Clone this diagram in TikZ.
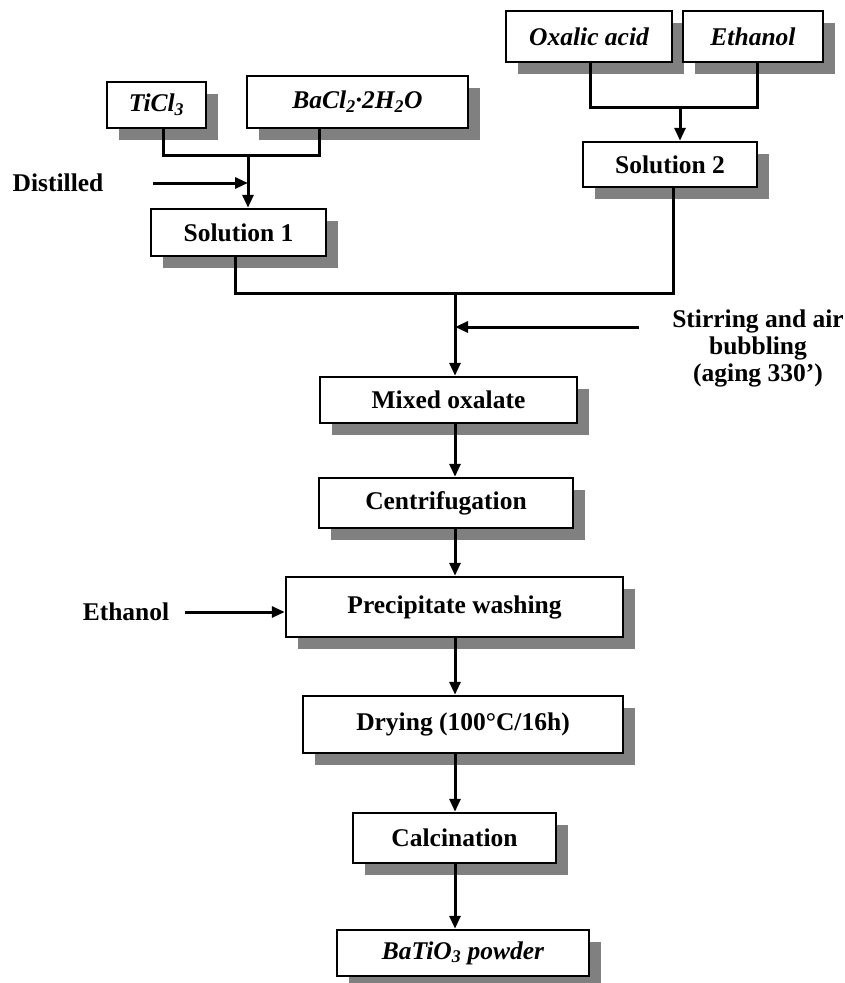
\documentclass[tikz,border=0pt]{standalone}
\usepackage{fontspec}
\setmainfont{Liberation Serif}
\usepackage{tikz}
\usetikzlibrary{positioning,calc,shadows,arrows.meta}
\tikzset{block/.style={draw,line width=2.5pt,fill=white,inner sep=0pt,
           font=\fontsize{25.5}{27}\selectfont\bfseries,
           drop shadow={shadow xshift=12pt,shadow yshift=-12pt,fill=black!50,opacity=1}},
         label/.style={inner sep=0pt,align=center,font=\fontsize{25.5}{27}\selectfont\bfseries},
         link/.style={line width=3pt}
}
\tikzstyle{arrow} = [link,-{Triangle[length=13pt,width=11pt]}]

\begin{document}
\begin{tikzpicture}[x=1pt,y=-1pt]
\useasboundingbox (0,0) rectangle (844,983);

\node[block,minimum width=99,minimum height=46] (ticl) at (156.5,105) {\itshape TiCl\textsubscript{3}};
\node[block,minimum width=221,minimum height=52] (bacl) at (357.5,102) {\itshape BaCl\textsubscript{2}·2H\textsubscript{2}O};
\node[block,minimum width=166,minimum height=51] (oxal) at (589,36.5) {\itshape Oxalic acid};
\node[block,minimum width=140,minimum height=51] (etoh) at (753,36.5) {\itshape Ethanol};
\node[block,minimum width=175,minimum height=47] (sol1) at (238.5,232.5) {Solution 1};
\node[block,minimum width=174,minimum height=45] (sol2) at (670,164.5) {Solution 2};
\node[block,minimum width=257,minimum height=46] (mixed) at (448.5,400) {Mixed oxalate};
\node[block,minimum width=254,minimum height=50] (centri) at (446,503) {Centrifugation};
\node[block,minimum width=337,minimum height=60] (wash) at (454.5,607) {Precipitate washing};
\node[block,minimum width=320,minimum height=57] (dry) at (463,724.5) {Drying (100°C/16h)};
\node[block,minimum width=203,minimum height=50] (calc) at (454.5,838) {Calcination};
\node[block,minimum width=252,minimum height=46] (bto) at (463,953) {\itshape BaTiO\textsubscript{3} powder};

\node[label] (dist) at (58,183) {Distilled};
\node[label] (etl) at (126,612) {Ethanol};
\node[label] (stir) at (758,348) {Stirring and air\\bubbling\\(aging 330’)};

\coordinate (j1) at (248,155);
\coordinate (j2) at (680,107);
\coordinate (j3) at (455,293);
\coordinate (s0) at (639,327);

\draw[link] ([xshift=6.5]ticl.south) |- (j1) -| ([xshift=-38.5]bacl.south);
\draw[arrow] (j1) -- (j1 |- sol1.north);
\draw[arrow] ([xshift=49]dist.east) -- (dist.east -| j1);
\draw[link] ([xshift=1]oxal.south) |- (j2) -| ([xshift=4]etoh.south);
\draw[arrow] (j2) -- (j2 |- sol2.north);
\draw[link] ([xshift=-3.5]sol1.south) |- (j3) -| ([xshift=3]sol2.south);
\draw[arrow] (j3) -- (j3 |- mixed.north);
\draw[arrow] (s0) -- (s0 -| j3);
\draw[arrow] (j3 |- mixed.south) -- (j3 |- centri.north);
\draw[arrow] (j3 |- centri.south) -- (j3 |- wash.north);
\draw[arrow] ([xshift=16]etl.east) -- (etl.east -| wash.west);
\draw[arrow] (j3 |- wash.south) -- (j3 |- dry.north);
\draw[arrow] (j3 |- dry.south) -- (j3 |- calc.north);
\draw[arrow] (j3 |- calc.south) -- (j3 |- bto.north);

\end{tikzpicture}
\end{document}
